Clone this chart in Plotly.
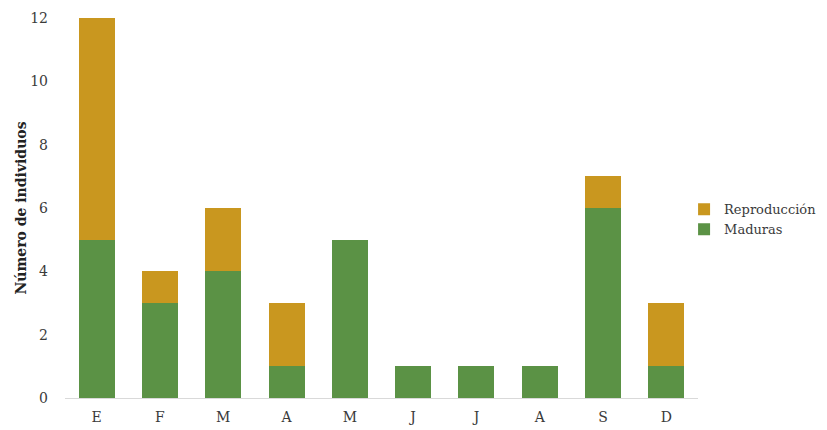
import plotly.graph_objects as go

months = ["E", "F", "M", "A", "M", "J", "J", "A", "S", "D"]
maduras = [5, 3, 4, 1, 5, 1, 1, 1, 6, 1]
reproduccion = [7, 1, 2, 2, 0, 0, 0, 0, 1, 2]
y_ticks = [0, 2, 4, 6, 8, 10, 12]

x = list(range(len(months)))
green = "#5B9245"
gold = "#C9971F"
font_family = "DejaVu Serif, Liberation Serif, serif"
text_color = "#3a3a3a"

fig = go.Figure()
fig.add_trace(go.Bar(x=x, y=maduras, name="Maduras", marker_color=green, marker_line_width=0))
fig.add_trace(go.Bar(x=x, y=reproduccion, name="Reproducción", marker_color=gold, marker_line_width=0))

fig.update_layout(
    barmode="stack",
    bargap=0.43,
    width=827, height=430,
    margin=dict(l=65, r=129, t=18, b=32, autoexpand=False),
    paper_bgcolor="white", plot_bgcolor="white",
    font=dict(family=font_family, color=text_color, size=14),
    legend=dict(traceorder="reversed", x=0.978, xanchor="left", y=0.47, yanchor="middle",
                font=dict(size=13, color=text_color), itemwidth=30, tracegroupgap=0),
    showlegend=True,
)
fig.update_xaxes(
    tickmode="array", tickvals=x, ticktext=months,
    range=[-0.5, len(months) - 0.5], automargin=False,
    showline=True, linecolor="#d9d9d9", linewidth=1,
    showgrid=False, ticks="", ticklabelstandoff=6,
    tickfont=dict(size=14, color=text_color),
)
fig.update_yaxes(
    range=[0, 12], tickmode="array", tickvals=y_ticks, automargin=False,
    showgrid=False, zeroline=False, showline=False,
    ticklabelstandoff=16,
    tickfont=dict(size=14, color=text_color),
    title=dict(text="<b>Número de individuos</b>", standoff=0,
               font=dict(size=14, color="#222222")),
)
fig.write_html(
    "out.html",
    config={"displayModeBar": False},
    post_script="document.body.style.margin='0';document.body.style.overflow='hidden';",
)
